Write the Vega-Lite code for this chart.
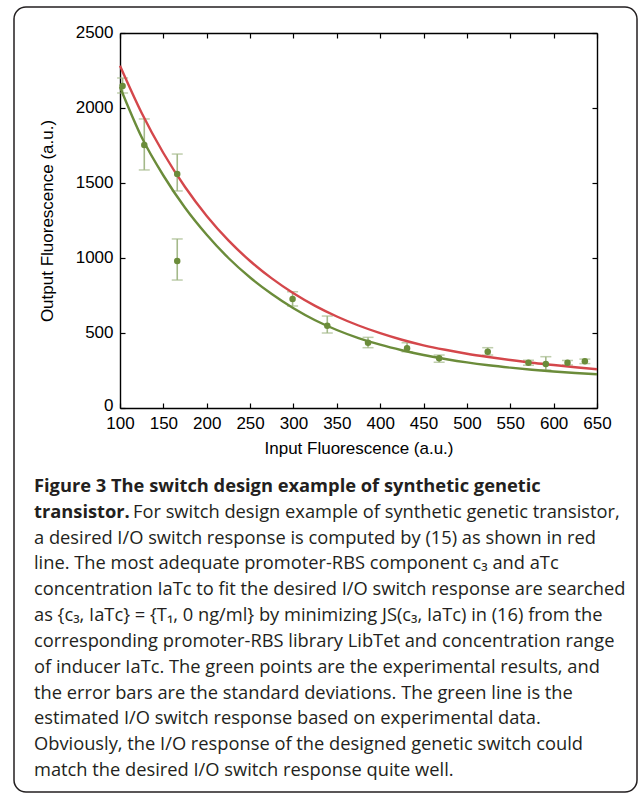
{
  "$schema": "https://vega.github.io/schema/vega-lite/v6.json",
  "width": 623,
  "height": 785,
  "autosize": {"type": "none"},
  "padding": {"left": 14, "top": 7, "right": 1, "bottom": 1},
  "background": "white",
  "config": {
    "view": {"stroke": "#231f20", "strokeWidth": 1.5, "cornerRadius": 12},
    "font": "Liberation Sans",
    "axis": {
      "grid": false,
      "domainColor": "#000000",
      "domainWidth": 1.4,
      "tickColor": "#000000",
      "tickWidth": 1.2,
      "tickSize": -5,
      "labelFont": "Liberation Sans",
      "labelFontSize": 17,
      "labelColor": "#000000",
      "labelFlush": false,
      "labelOverlap": false,
      "titleFont": "Liberation Sans",
      "titleFontSize": 17,
      "titleFontWeight": "normal",
      "titleColor": "#000000"
    }
  },
  "datasets": {
    "curves": [
      {"series": "desired", "x": 100, "y": 2282},
      {"series": "desired", "x": 125, "y": 1967},
      {"series": "desired", "x": 150, "y": 1700},
      {"series": "desired", "x": 175, "y": 1473},
      {"series": "desired", "x": 200, "y": 1280},
      {"series": "desired", "x": 225, "y": 1117},
      {"series": "desired", "x": 250, "y": 980},
      {"series": "desired", "x": 275, "y": 864},
      {"series": "desired", "x": 300, "y": 765},
      {"series": "desired", "x": 325, "y": 681},
      {"series": "desired", "x": 350, "y": 610},
      {"series": "desired", "x": 375, "y": 550},
      {"series": "desired", "x": 400, "y": 499},
      {"series": "desired", "x": 425, "y": 455},
      {"series": "desired", "x": 450, "y": 418},
      {"series": "desired", "x": 475, "y": 388},
      {"series": "desired", "x": 500, "y": 362},
      {"series": "desired", "x": 525, "y": 340},
      {"series": "desired", "x": 550, "y": 320},
      {"series": "desired", "x": 575, "y": 302},
      {"series": "desired", "x": 600, "y": 287},
      {"series": "desired", "x": 625, "y": 272},
      {"series": "desired", "x": 650, "y": 258},
      {"series": "estimated", "x": 100, "y": 2140},
      {"series": "estimated", "x": 125, "y": 1805},
      {"series": "estimated", "x": 150, "y": 1550},
      {"series": "estimated", "x": 175, "y": 1335},
      {"series": "estimated", "x": 200, "y": 1155},
      {"series": "estimated", "x": 225, "y": 1000},
      {"series": "estimated", "x": 250, "y": 870},
      {"series": "estimated", "x": 275, "y": 760},
      {"series": "estimated", "x": 300, "y": 665},
      {"series": "estimated", "x": 325, "y": 585},
      {"series": "estimated", "x": 350, "y": 520},
      {"series": "estimated", "x": 375, "y": 466},
      {"series": "estimated", "x": 400, "y": 422},
      {"series": "estimated", "x": 425, "y": 385},
      {"series": "estimated", "x": 450, "y": 353},
      {"series": "estimated", "x": 475, "y": 327},
      {"series": "estimated", "x": 500, "y": 304},
      {"series": "estimated", "x": 525, "y": 285},
      {"series": "estimated", "x": 550, "y": 269},
      {"series": "estimated", "x": 575, "y": 255},
      {"series": "estimated", "x": 600, "y": 243},
      {"series": "estimated", "x": 625, "y": 233},
      {"series": "estimated", "x": 650, "y": 225}
    ],
    "points": [
      {"x": 103, "y": 2147, "lo": 2100, "hi": 2200},
      {"x": 128, "y": 1753, "lo": 1587, "hi": 1927},
      {"x": 166, "y": 1560, "lo": 1447, "hi": 1693},
      {"x": 166, "y": 980, "lo": 853, "hi": 1127},
      {"x": 299, "y": 727, "lo": 680, "hi": 775},
      {"x": 339, "y": 549, "lo": 500, "hi": 613},
      {"x": 386, "y": 435, "lo": 402, "hi": 471},
      {"x": 431, "y": 398, "lo": 375, "hi": 435},
      {"x": 468, "y": 331, "lo": 305, "hi": 353},
      {"x": 524, "y": 375, "lo": 353, "hi": 402},
      {"x": 571, "y": 302, "lo": 285, "hi": 318},
      {"x": 591, "y": 293, "lo": 253, "hi": 342},
      {"x": 616, "y": 302, "lo": 287, "hi": 317},
      {"x": 636, "y": 311, "lo": 296, "hi": 326}
    ],
    "caption": [
      {"line": 1, "w": "b", "t": "Figure 3 The switch design example of synthetic genetic"},
      {"line": 2, "w": "b", "t": "transistor."},
      {"line": 2, "w": "n2", "t": "For switch design example of synthetic genetic transistor,"},
      {"line": 3, "w": "n", "t": "a desired I/O switch response is computed by (15) as shown in red"},
      {"line": 4, "w": "n", "t": "line. The most adequate promoter-RBS component c₃ and aTc"},
      {"line": 5, "w": "n", "t": "concentration IaTc to fit the desired I/O switch response are searched"},
      {"line": 6, "w": "n", "t": "as {c₃, IaTc} = {T₁, 0 ng/ml} by minimizing JS(c₃, IaTc) in (16) from the"},
      {"line": 7, "w": "n", "t": "corresponding promoter-RBS library LibTet and concentration range"},
      {"line": 8, "w": "n", "t": "of inducer IaTc. The green points are the experimental results, and"},
      {"line": 9, "w": "n", "t": "the error bars are the standard deviations. The green line is the"},
      {"line": 10, "w": "n", "t": "estimated I/O switch response based on experimental data."},
      {"line": 11, "w": "n", "t": "Obviously, the I/O response of the designed genetic switch could"},
      {"line": 12, "w": "n", "t": "match the desired I/O switch response quite well."}
    ]
  },
  "layer": [
    {
      "layer": [
        {
          "data": {"name": "points"},
          "mark": {"type": "rule", "color": "#a4b98a", "strokeWidth": 1.6},
          "encoding": {
            "x": {"field": "x", "type": "quantitative", "scale": {"domain": [100, 650], "range": [106, 583]}, "axis": null},
            "y": {"field": "lo", "type": "quantitative", "scale": {"domain": [0, 2500], "range": [401, 26]}, "axis": null},
            "y2": {"field": "hi"}
          }
        },
        {
          "data": {"name": "points"},
          "mark": {"type": "tick", "orient": "horizontal", "color": "#a4b98a", "size": 11, "thickness": 1.5},
          "encoding": {
            "x": {"field": "x", "type": "quantitative", "scale": {"domain": [100, 650], "range": [106, 583]}, "axis": null},
            "y": {"field": "lo", "type": "quantitative", "scale": {"domain": [0, 2500], "range": [401, 26]}, "axis": null}
          }
        },
        {
          "data": {"name": "points"},
          "mark": {"type": "tick", "orient": "horizontal", "color": "#a4b98a", "size": 11, "thickness": 1.5},
          "encoding": {
            "x": {"field": "x", "type": "quantitative", "scale": {"domain": [100, 650], "range": [106, 583]}, "axis": null},
            "y": {"field": "hi", "type": "quantitative", "scale": {"domain": [0, 2500], "range": [401, 26]}, "axis": null}
          }
        },
        {
          "data": {"name": "curves"},
          "mark": {"type": "line", "strokeWidth": 2.4, "interpolate": "monotone"},
          "encoding": {
            "x": {
              "field": "x", "type": "quantitative",
              "scale": {"domain": [100, 650], "range": [106, 583]},
              "axis": {"orient": "bottom", "offset": -384, "format": "d", "values": [100, 150, 200, 250, 300, 350, 400, 450, 500, 550, 600, 650], "title": "Input Fluorescence (a.u.)", "labelPadding": 12, "titlePadding": 9}
            },
            "y": {
              "field": "y", "type": "quantitative",
              "scale": {"domain": [0, 2500], "range": [401, 26]},
              "axis": {"orient": "left", "offset": -106, "format": "d", "values": [0, 500, 1000, 1500, 2000, 2500], "title": "Output Fluorescence (a.u.)", "labelPadding": 12, "titlePadding": 19, "labelOffset": {"condition": {"test": "datum.value == 0", "value": -3}, "value": -1}}
            },
            "color": {"field": "series", "type": "nominal", "scale": {"domain": ["desired", "estimated"], "range": ["#d4474b", "#6b8c3a"]}, "legend": null}
          }
        },
        {
          "data": {"name": "points"},
          "mark": {"type": "circle", "size": 42, "color": "#6b8c3a", "opacity": 1},
          "encoding": {
            "x": {
              "field": "x", "type": "quantitative",
              "scale": {"domain": [100, 650], "range": [106, 583]},
              "axis": {"orient": "top", "offset": -26, "values": [100, 150, 200, 250, 300, 350, 400, 450, 500, 550, 600, 650], "labels": false, "title": null}
            },
            "y": {
              "field": "y", "type": "quantitative",
              "scale": {"domain": [0, 2500], "range": [401, 26]},
              "axis": {"orient": "right", "offset": -40, "values": [0, 500, 1000, 1500, 2000, 2500], "labels": false, "title": null}
            }
          }
        }
      ],
      "resolve": {"axis": {"x": "independent", "y": "independent"}}
    },
    {
      "data": {"name": "caption"},
      "layer": [
        {
          "transform": [{"filter": "datum.w == 'b'"}],
          "mark": {"type": "text", "align": "left", "baseline": "middle", "font": "Open Sans", "fontSize": 18.3, "fontWeight": "bold", "color": "#231f20"}
        },
        {
          "transform": [{"filter": "datum.w == 'n'"}],
          "mark": {"type": "text", "align": "left", "baseline": "middle", "font": "Open Sans", "fontSize": 18.3, "color": "#231f20"}
        },
        {
          "transform": [{"filter": "datum.w == 'n2'"}],
          "mark": {"type": "text", "align": "left", "baseline": "middle", "font": "Open Sans", "fontSize": 18.3, "color": "#231f20", "dx": 99}
        }
      ],
      "encoding": {
        "x": {"value": 20},
        "y": {"field": "line", "type": "quantitative", "scale": {"domain": [1, 12], "range": [480, 764]}, "axis": null},
        "text": {"field": "t"}
      }
    }
  ],
  "resolve": {"scale": {"y": "independent"}}
}
